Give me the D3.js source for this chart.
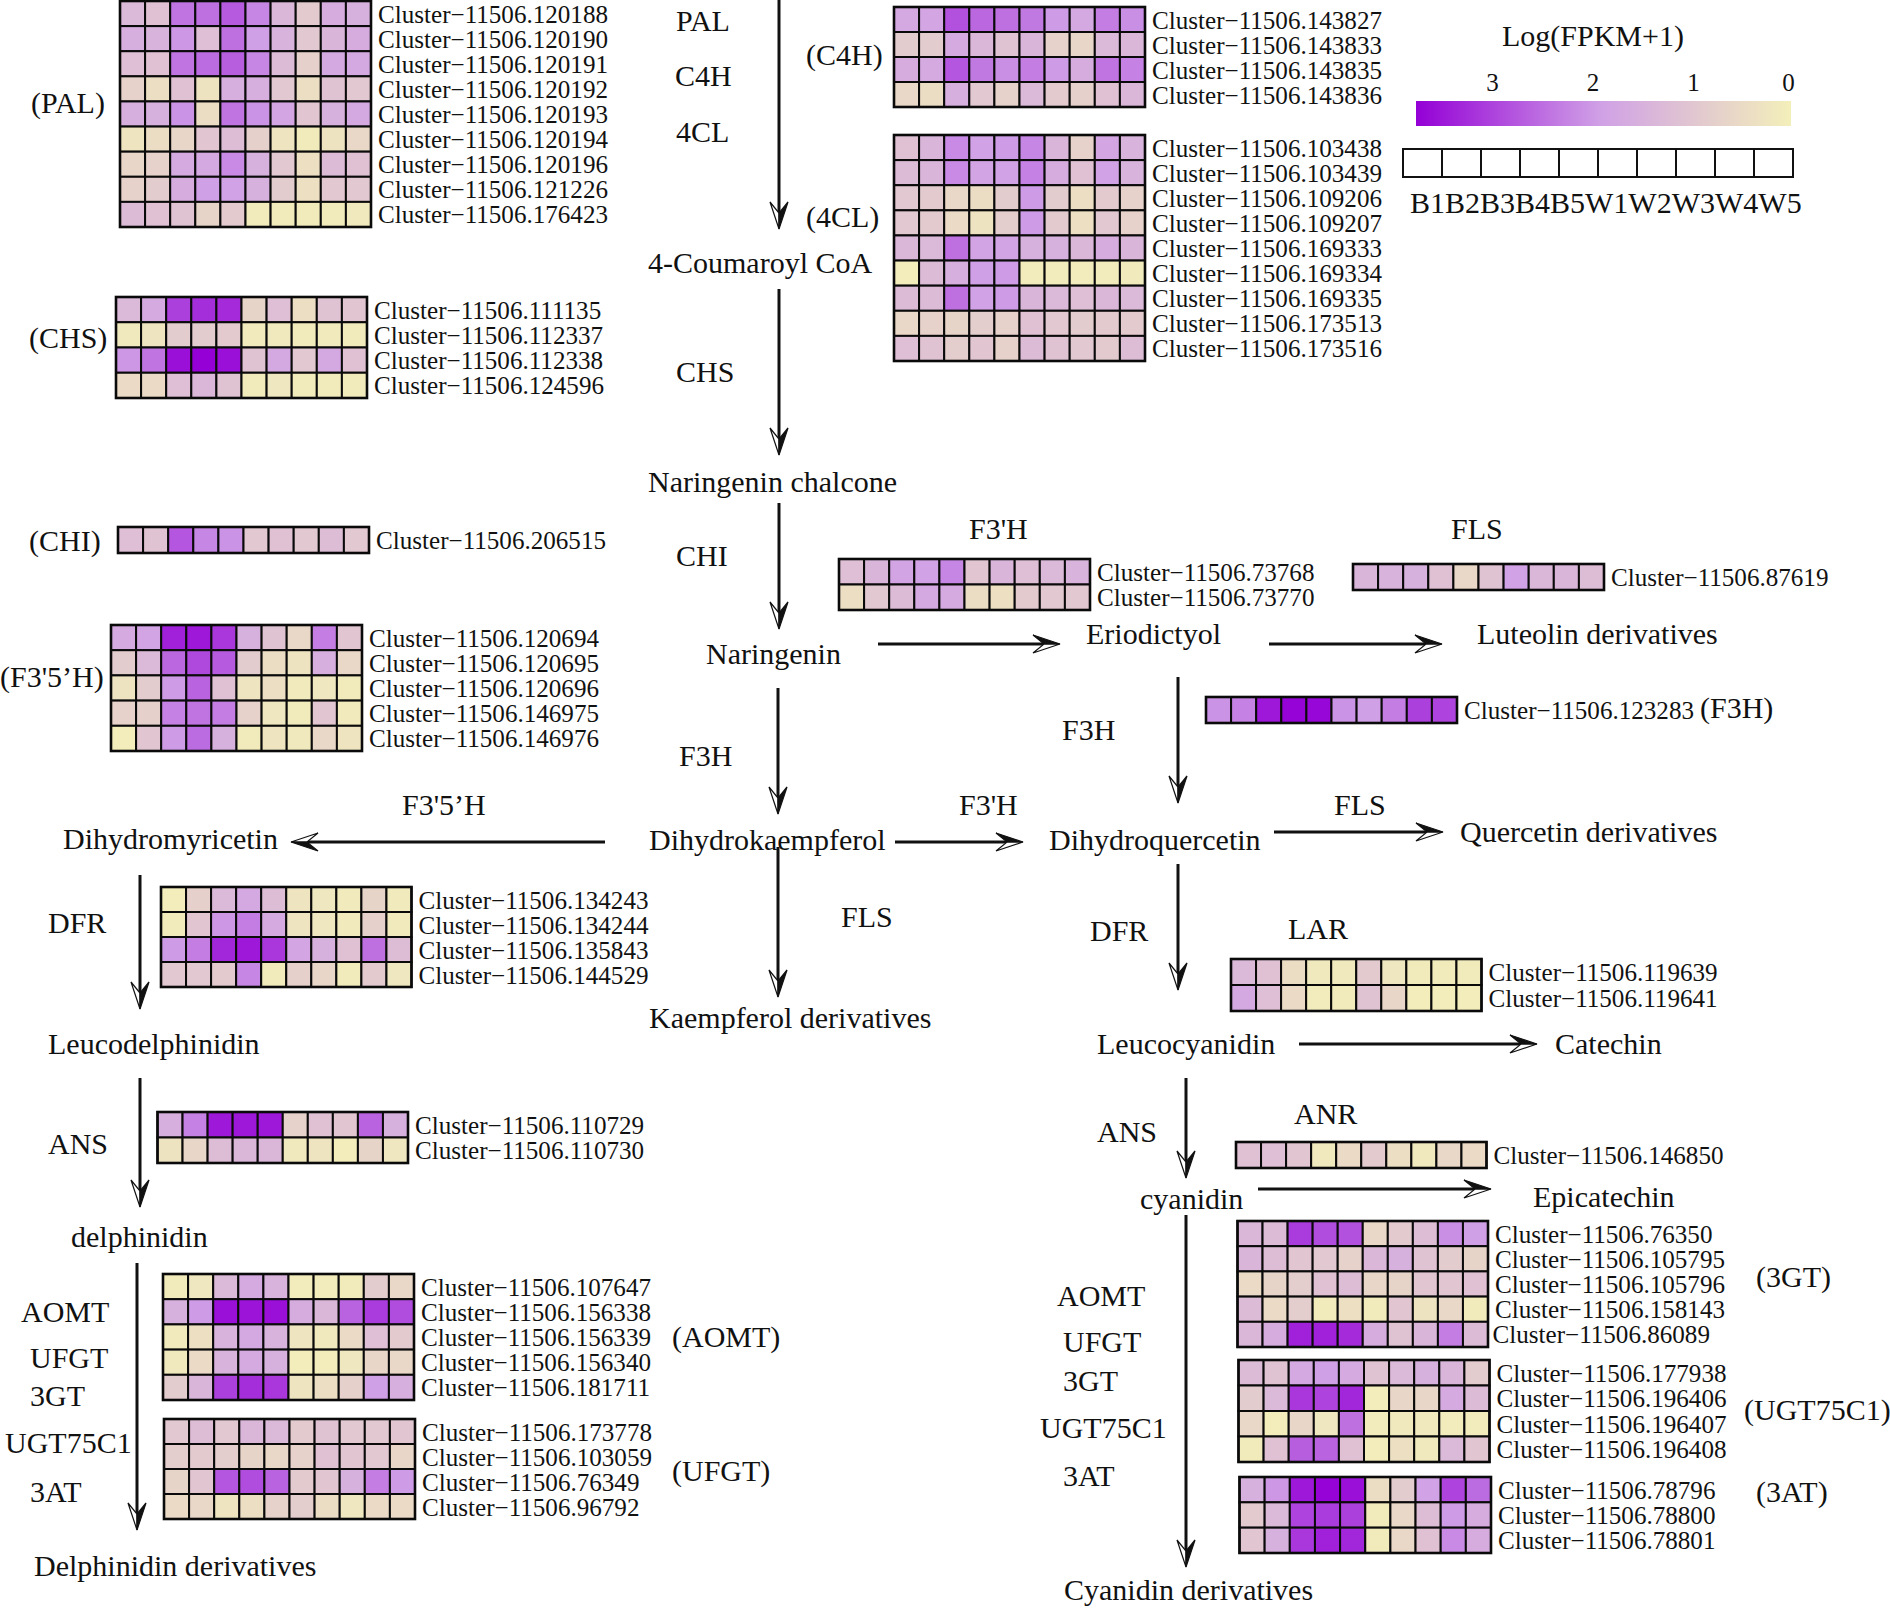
<!DOCTYPE html>
<html>
<head>
<meta charset="utf-8">
<script src="https://cdn.jsdelivr.net/npm/d3@7"></script>
<style>
  html, body { margin: 0; padding: 0; background: #fff; }
  svg { display: block; }
  text { font-family: "Liberation Serif", "Times New Roman", serif; fill: #111; }
</style>
</head>
<body>
<svg id="chart" width="1890" height="1609"></svg>
<script>
// samples and cluster ids
const samples = ["B1","B2","B3","B4","B5","W1","W2","W3","W4","W5"];
const prefix = "Cluster\u221211506.";

// Log(FPKM+1)
const palIds = ["120188","120190","120191","120192","120193","120194","120196","121226","176423"];
const palValues = [
  [1.3,1.1,2.4,2.45,2.7,2.2,1.35,.9,1.6,1.5],
  [1.55,1.45,2.0,1.15,2.45,1.9,1.45,.95,1.4,1.6],
  [1.15,1.1,2.4,2.5,2.65,2.2,1.25,.75,1.7,1.7],
  [.7,.4,1.1,.3,1.55,1.55,.95,.4,1.05,.95],
  [1.55,1.5,2.05,.45,2.4,2.05,1.75,1.0,1.5,1.7],
  [.25,.45,.6,1.0,1.2,.75,.25,.1,.3,.55],
  [.6,.7,1.65,1.7,2.15,1.5,.95,.35,1.25,1.1],
  [.7,.85,1.6,1.9,1.85,1.5,.85,.35,.95,.95],
  [1.25,1.1,1.05,.65,.9,.1,.1,.1,.1,.15]
];
const chsIds = ["111135","112337","112338","124596"];
const chsValues = [
  [1.3,1.65,3.0,3.2,3.25,.65,1.15,.4,1.05,1.0],
  [.15,.25,.85,.85,.9,.12,.15,.1,.12,.1],
  [2.0,2.4,3.55,3.73,3.55,1.05,1.7,.95,1.7,1.1],
  [.5,.5,1.15,1.35,1.05,.1,.2,.1,.1,.1]
];
const chiIds = ["206515"];
const chiValues = [[1.15,1.05,2.75,2.2,2.05,.95,1.1,.95,1.2,.95]];
const f35hIds = ["120694","120695","120696","146975","146976"];
const f35hValues = [
  [1.65,1.8,3.35,3.45,3.1,1.5,1.05,.55,2.3,1.0],
  [.85,1.3,2.55,2.9,2.7,.85,.45,.3,1.55,.55],
  [.3,.85,1.95,2.6,1.1,.25,.4,.12,.2,.1],
  [.7,.75,2.25,2.4,2.3,.7,.2,.1,1.0,.12],
  [.05,1.0,1.95,2.5,1.5,.1,.25,.15,.55,.25]
];
const dfrIds = ["134243","134244","135843","144529"];
const dfrValues = [
  [.05,.75,1.3,1.7,1.2,.25,.2,.12,.65,.12],
  [.1,1.0,2.0,2.3,1.65,.25,.2,.12,.75,.12],
  [1.95,2.3,3.3,3.45,3.1,1.75,1.5,1.1,2.45,1.2],
  [.95,.95,.9,2.2,.1,.75,.6,.1,.9,.2]
];
const ansIds = ["110729","110730"];
const ansValues = [
  [1.55,2.25,3.45,3.45,3.45,.7,1.1,1.0,2.6,1.5],
  [.3,.6,1.2,1.35,1.35,.15,.25,.05,.65,.2]
];
const aomtIds = ["107647","156338","156339","156340","181711"];
const aomtValues = [
  [.1,.2,1.3,1.65,1.45,.08,.08,.1,.85,.55],
  [1.5,1.95,3.55,3.5,3.55,1.6,1.35,2.6,3.05,2.85],
  [.12,.35,1.45,1.7,1.45,.25,.15,.5,1.15,.9],
  [.15,.5,1.45,1.65,1.5,.05,.05,.2,.6,.55],
  [.85,1.4,3.0,3.2,3.1,.25,.4,.75,1.9,1.55]
];
const ufgtIds = ["173778","103059","76349","96792"];
const ufgtValues = [
  [.95,1.2,.95,1.35,1.3,.9,1.05,.95,.95,1.0],
  [.8,.9,.8,.65,.55,.7,1.1,1.0,.95,.6],
  [.65,1.0,2.75,2.85,2.6,.9,1.0,1.5,2.3,1.95],
  [.5,.55,.25,.4,.7,.8,.45,.2,.5,.5]
];
const c4hIds = ["143827","143833","143835","143836"];
const c4hValues = [
  [1.7,1.75,2.8,2.55,2.45,2.35,1.95,1.7,2.3,2.1],
  [.85,.85,1.65,1.35,1.05,1.4,.7,.6,1.3,1.35],
  [1.6,1.65,2.75,2.35,2.1,2.3,1.95,1.6,2.4,2.25],
  [.55,.45,1.55,.95,.7,1.3,.9,.75,1.1,1.35]
];
const cl4Ids = ["103438","103439","109206","109207","169333","169334","169335","173513","173516"];
const cl4Values = [
  [1.1,1.4,2.15,1.85,1.95,2.2,1.4,.7,1.75,1.45],
  [1.25,1.4,2.15,1.8,1.85,2.25,1.6,1.1,1.85,1.45],
  [.95,.9,.55,.45,.85,1.95,.85,.4,.9,.7],
  [.95,.9,.5,.3,.8,1.95,.9,.35,.95,.7],
  [1.35,1.3,2.45,1.8,1.8,1.5,1.5,1.35,1.6,1.4],
  [.05,1.25,1.55,1.9,1.95,.08,.08,.08,.08,.12],
  [1.25,1.25,2.45,1.85,1.95,1.4,1.3,1.15,1.35,1.3],
  [.55,.7,.65,.8,.7,1.1,.95,.85,.9,.9],
  [1.15,1.05,.8,1.0,.7,1.25,1.05,.95,.9,1.2]
];
const f3hpIds = ["73768","73770"];
const f3hpValues = [
  [1.15,1.4,1.8,1.85,2.2,1.0,1.4,1.15,1.3,1.45],
  [.4,.95,1.25,1.7,1.65,.45,.35,.9,.95,.95]
];
const flsIds = ["87619"];
const flsValues = [[1.4,1.45,1.5,1.1,.55,1.05,1.85,1.35,1.4,1.2]];
const f3hIds = ["123283"];
const f3hValues = [[2.05,2.25,3.45,3.7,3.65,2.05,1.9,2.3,3.0,2.95]];
const larIds = ["119639","119641"];
const larValues = [
  [1.3,1.1,.45,.15,.15,.9,.2,.1,.1,.1],
  [1.7,1.15,.5,.08,.1,1.05,.6,.05,.05,.05]
];
const anrIds = ["146850"];
const anrValues = [[1.1,1.15,1.0,.15,.5,.9,.4,.15,.55,.5]];
const gt3Ids = ["76350","105795","105796","158143","86089"];
const gt3Values = [
  [1.35,1.25,3.05,2.85,2.8,.55,.9,1.2,2.1,1.9],
  [1.4,1.2,1.0,.95,.7,1.35,1.5,1.05,.85,.65],
  [.5,.65,.8,1.1,1.2,.6,.65,1.0,1.0,1.1],
  [1.25,.5,.8,.1,.35,.1,1.0,.3,.55,.1],
  [1.35,1.6,3.35,3.35,3.25,1.6,1.05,1.4,2.3,1.25]
];
const ugtIds = ["177938","196406","196407","196408"];
const ugtValues = [
  [1.25,1.05,1.7,1.9,1.65,1.05,1.3,1.5,1.4,.85],
  [.85,1.3,3.1,2.95,3.3,.05,.6,.6,1.65,1.25],
  [.55,.05,.6,.2,2.45,.08,.15,.15,.08,.08],
  [.1,1.1,2.65,2.6,1.1,.05,.35,.15,1.3,1.0]
];
const at3Ids = ["78796","78800","78801"];
const at3Values = [
  [1.5,2.0,3.45,3.7,3.55,.45,.85,1.85,2.95,2.5],
  [.9,1.3,2.95,3.05,3.0,.1,.55,1.2,1.95,1.6],
  [1.0,1.5,3.1,3.35,3.3,.1,.55,1.1,2.15,1.6]
];

// legend
const legendTitle = "Log(FPKM+1)";
const legendTicks = [3, 2, 1, 0];
const colorDomain = [0, 1.9, 3.73];
const colorRange = ["#f3efba", "#d0a0e6", "#9400d6"];

// where each heatmap sits on the page [ids, values, x0, x1, y0, y1]
const panels = [
  [palIds, palValues, 120, 371, 1, 227],
  [chsIds, chsValues, 116, 367, 297, 398],
  [chiIds, chiValues, 118, 369, 527, 553],
  [f35hIds, f35hValues, 111, 362, 625, 751],
  [dfrIds, dfrValues, 161, 411.5, 887, 987],
  [ansIds, ansValues, 157.5, 408, 1112, 1163],
  [aomtIds, aomtValues, 163, 414, 1274, 1400],
  [ufgtIds, ufgtValues, 164, 415, 1419, 1519],
  [c4hIds, c4hValues, 894, 1145, 7, 107],
  [cl4Ids, cl4Values, 894, 1145, 135, 361],
  [f3hpIds, f3hpValues, 839, 1090, 559, 610],
  [flsIds, flsValues, 1353, 1604, 564, 590],
  [f3hIds, f3hValues, 1206, 1457, 697, 723],
  [larIds, larValues, 1231, 1481.5, 959, 1011],
  [anrIds, anrValues, 1236, 1486.5, 1142, 1168],
  [gt3Ids, gt3Values, 1237.5, 1488, 1221, 1347],
  [ugtIds, ugtValues, 1238.5, 1489.5, 1360, 1462],
  [at3Ids, at3Values, 1239.5, 1491, 1477, 1553]
];

// pathway text [label, x, baseline]
const pathwayLabels = [
  ["PAL",676,31],["C4H",675,86],["4CL",676,142],["4-Coumaroyl CoA",648,273],
  ["CHS",676,382],["Naringenin chalcone",648,492],["CHI",676,566],["Naringenin",706,664],
  ["F3H",679,766],["Dihydrokaempferol",649,850],["F3'H",959,815],["FLS",841,927],
  ["Kaempferol derivatives",649,1028],["Dihydroquercetin",1049,850],["FLS",1334,815],
  ["Quercetin derivatives",1460,842],["DFR",1090,941],["LAR",1288,939],
  ["Leucocyanidin",1097,1054],["Catechin",1555,1054],["ANS",1097,1142],["ANR",1294,1124],
  ["cyanidin",1140,1209],["Epicatechin",1533,1207],["AOMT",1057,1306],["UFGT",1063,1352],
  ["3GT",1063,1391],["UGT75C1",1040,1438],["3AT",1063,1486],["Cyanidin derivatives",1064,1600],
  ["(3GT)",1756,1287],["(UGT75C1)",1744,1420],["(3AT)",1756,1502],
  ["(PAL)",31,113],["(CHS)",29,348],["(CHI)",29,551],["(F3'5\u2019H)",0,687],
  ["F3'5\u2019H",402,815],["Dihydromyricetin",63,849],["DFR",48,933],["Leucodelphinidin",48,1054],
  ["ANS",48,1154],["delphinidin",71,1247],["AOMT",21,1322],["UFGT",30,1368],["3GT",30,1406],
  ["UGT75C1",5,1453],["3AT",30,1502],["Delphinidin derivatives",34,1576],
  ["(AOMT)",672,1347],["(UFGT)",672,1481],["(C4H)",806,65],["(4CL)",806,227],
  ["F3'H",969,539],["FLS",1451,539],["Eriodictyol",1086,644],["Luteolin derivatives",1477,644],
  ["F3H",1062,740],["(F3H)",1700,718]
];

// arrows [x1, y1, x2, y2], the head is at x2,y2
const arrows = [
  [779,0,779,229],[779,289,779,455],[779,503,779,629],[778,688,778,814],[778,847,778,997],
  [895,842,1023,842],[605,842,291,842],[140,875,140,1009],[140,1078,140,1207],[137,1263,137,1530],
  [878,644,1060,644],[1269,644,1442,644],[1178,677,1178,803],[1274,832,1443,832],[1178,864,1178,990],
  [1299,1044,1537,1044],[1186,1078,1186,1178],[1258,1189,1491,1189],[1186,1215,1186,1567]
];

const svg = d3.select("#chart");
const color = d3.scaleLinear().domain(colorDomain).range(colorRange);

// heatmaps
panels.forEach(([ids, values, x0, x1, y0, y1]) => {
  const x = d3.scaleBand().domain(samples).range([x0, x1]);
  const y = d3.scaleBand().domain(ids).range([y0, y1]);
  const g = svg.append("g");
  ids.forEach((id, r) => {
    g.selectAll(null)
      .data(values[r])
      .enter().append("rect")
      .attr("x", (d, c) => x(samples[c]))
      .attr("y", y(id))
      .attr("width", x.bandwidth())
      .attr("height", y.bandwidth())
      .attr("fill", d => color(d))
      .attr("stroke", "#0a0a0a")
      .attr("stroke-width", 2);
  });
  // heavier outline round the block
  g.append("rect")
    .attr("x", x0).attr("y", y0)
    .attr("width", x1 - x0).attr("height", y1 - y0)
    .attr("fill", "none").attr("stroke", "#0a0a0a").attr("stroke-width", 2.6);
  g.selectAll("text")
    .data(ids)
    .enter().append("text")
    .attr("x", d => x1 + (d === "86089" ? 4.5 : 7))
    .attr("y", d => y(d) + y.bandwidth() / 2 + 9)
    .attr("font-size", 25.1)
    .text(d => prefix + d);
});

// pathway names
svg.append("g").selectAll("text")
  .data(pathwayLabels)
  .enter().append("text")
  .attr("x", d => d[1])
  .attr("y", d => d[2])
  .attr("font-size", 30)
  .text(d => d[0]);

// arrows: half the head is solid, the other half only outlined
const arrowG = svg.append("g");
arrows.forEach(([x1, y1, x2, y2]) => {
  const len = Math.hypot(x2 - x1, y2 - y1);
  const angle = Math.atan2(y2 - y1, x2 - x1) * 180 / Math.PI;
  const g = arrowG.append("g").attr("transform", `translate(${x1},${y1}) rotate(${angle})`);
  g.append("line")
    .attr("x2", len - 12).attr("stroke", "#111").attr("stroke-width", 3);
  g.append("path")
    .attr("d", `M${len},0 L${len - 27},9 L${len - 16},0 Z`)
    .attr("fill", "#fff").attr("stroke", "#111").attr("stroke-width", 1.2);
  g.append("path")
    .attr("d", `M${len},0 L${len - 27},-9 L${len - 16},0 Z`)
    .attr("fill", "#111").attr("stroke", "#111").attr("stroke-width", 1.2);
});

// legend
svg.append("text").attr("x", 1502).attr("y", 46).attr("font-size", 30).text(legendTitle);

const legendX = d3.scaleLinear().domain([colorDomain[2], 0]).range([1416, 1791]);
const defs = svg.append("defs");
const grad = defs.append("linearGradient").attr("id", "legend-grad");
grad.selectAll("stop")
  .data(colorDomain.slice().reverse())
  .enter().append("stop")
  .attr("offset", d => (legendX(d) - 1416) / 375)
  .attr("stop-color", d => color(d));
svg.append("rect")
  .attr("x", 1416).attr("y", 101).attr("width", 375).attr("height", 25)
  .attr("fill", "url(#legend-grad)");

const legendAxis = svg.append("g")
  .attr("transform", "translate(0,98)")
  .call(d3.axisTop(legendX).tickValues(legendTicks).tickSize(0).tickPadding(0).tickFormat(d3.format("d")));
legendAxis.select(".domain").remove();
legendAxis.selectAll("text")
  .attr("font-family", null)
  .attr("font-size", 25)
  .attr("dy", 0)
  .attr("y", -7)
  .attr("dx", d => d === 0 ? -3 : 2.5);

const legendBand = d3.scaleBand().domain(samples).range([1403, 1793]);
svg.append("g").selectAll("rect")
  .data(samples)
  .enter().append("rect")
  .attr("x", d => legendBand(d))
  .attr("y", 149)
  .attr("width", legendBand.bandwidth())
  .attr("height", 28)
  .attr("fill", "#fff")
  .attr("stroke", "#111")
  .attr("stroke-width", 2);
svg.append("text")
  .attr("x", 1410).attr("y", 213).attr("font-size", 30)
  .text(samples.join(""));
</script>
</body>
</html>
